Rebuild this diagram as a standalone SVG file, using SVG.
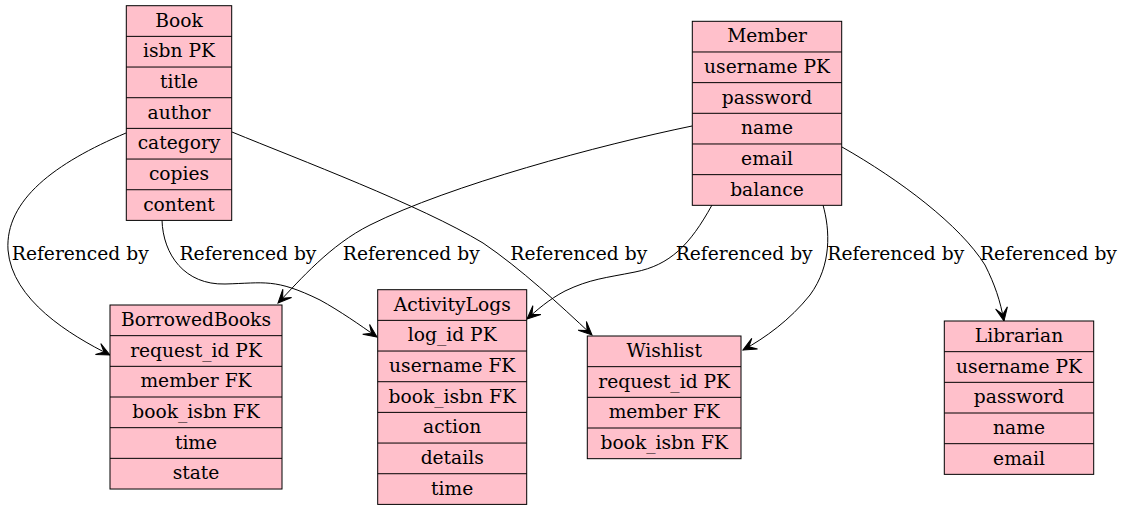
<svg xmlns="http://www.w3.org/2000/svg" width="1123" height="511" viewBox="0 0 1123 511">
<style>
.box{fill:#ffc0cb;stroke:#000;stroke-width:1}
.sep{stroke:#000;stroke-width:1}
.t{font-family:"DejaVu Serif","Liberation Serif",serif;font-size:18.67px;fill:#000;text-anchor:middle}
.edge{fill:none;stroke:#000;stroke-width:1;marker-end:url(#vee)}
</style>
<defs>
<marker id="vee" markerUnits="userSpaceOnUse" viewBox="-15 -8 16 16" refX="0" refY="0" markerWidth="16" markerHeight="16" orient="auto">
<path d="M0,0 L-13.3,-6 L-6.7,0 L-13.3,6 Z" fill="#000" stroke="#000" stroke-width="1"/>
</marker>
</defs>
<rect width="1123" height="511" fill="#fff"/>
<g id="connectors">
<path class="edge" d="M126,133 C55,163 5,200 8,250 C12,300 70,335 110,355"/>
<path class="edge" d="M162,220 C163,255 185,285 225,284 C265,283 275,278 320,300 C340,311 360,325 377,337"/>
<path class="edge" d="M232,132 C300,160 420,205 483,243 C520,268 560,305 592,335"/>
<path class="edge" d="M692,126 C600,145 450,185 370,225 C330,245 300,280 278,303"/>
<path class="edge" d="M712,205 C690,245 670,265 635,272 C605,278 590,279 565,291 C548,300 537,310 527,319"/>
<path class="edge" d="M823,205 C830,230 832,265 810,295 C790,320 765,338 743,350"/>
<path class="edge" d="M842,147 C900,180 960,225 985,265 C995,285 1000,300 1004,321"/>
<text class="t" x="80.3" y="259.5">Referenced by</text>
<text class="t" x="248" y="259.5">Referenced by</text>
<text class="t" x="411.3" y="259.5">Referenced by</text>
<text class="t" x="578.8" y="259.5">Referenced by</text>
<text class="t" x="744.2" y="259.5">Referenced by</text>
<text class="t" x="895.8" y="259.5">Referenced by</text>
<text class="t" x="1048.5" y="259.5">Referenced by</text>
</g>
<g id="Book">
<rect class="box" x="126.3" y="5.7" width="105.4" height="214.69"/>
<path class="sep" d="M126.3,36.37H231.7M126.3,67.04H231.7M126.3,97.71H231.7M126.3,128.38H231.7M126.3,159.05H231.7M126.3,189.72H231.7"/>
<text class="t" x="179" y="26.7">Book</text>
<text class="t" x="179" y="57.37">isbn PK</text>
<text class="t" x="179" y="88.04">title</text>
<text class="t" x="179" y="118.71">author</text>
<text class="t" x="179" y="149.38">category</text>
<text class="t" x="179" y="180.05">copies</text>
<text class="t" x="179" y="210.72">content</text>
</g>
<g id="Member">
<rect class="box" x="692.3" y="21.3" width="149.4" height="184.02"/>
<path class="sep" d="M692.3,51.97H841.7M692.3,82.64H841.7M692.3,113.31H841.7M692.3,143.98H841.7M692.3,174.65H841.7"/>
<text class="t" x="767" y="42.3">Member</text>
<text class="t" x="767" y="72.97">username PK</text>
<text class="t" x="767" y="103.64">password</text>
<text class="t" x="767" y="134.31">name</text>
<text class="t" x="767" y="164.98">email</text>
<text class="t" x="767" y="195.65">balance</text>
</g>
<g id="BorrowedBooks">
<rect class="box" x="110" y="305" width="172" height="184.02"/>
<path class="sep" d="M110,335.67H282M110,366.34H282M110,397.01H282M110,427.68H282M110,458.35H282"/>
<text class="t" x="196" y="326">BorrowedBooks</text>
<text class="t" x="196" y="356.67">request_id PK</text>
<text class="t" x="196" y="387.34">member FK</text>
<text class="t" x="196" y="418.01">book_isbn FK</text>
<text class="t" x="196" y="448.68">time</text>
<text class="t" x="196" y="479.35">state</text>
</g>
<g id="ActivityLogs">
<rect class="box" x="377.7" y="289.7" width="149" height="214.69"/>
<path class="sep" d="M377.7,320.37H526.7M377.7,351.04H526.7M377.7,381.71H526.7M377.7,412.38H526.7M377.7,443.05H526.7M377.7,473.72H526.7"/>
<text class="t" x="452.2" y="310.7">ActivityLogs</text>
<text class="t" x="452.2" y="341.37">log_id PK</text>
<text class="t" x="452.2" y="372.04">username FK</text>
<text class="t" x="452.2" y="402.71">book_isbn FK</text>
<text class="t" x="452.2" y="433.38">action</text>
<text class="t" x="452.2" y="464.05">details</text>
<text class="t" x="452.2" y="494.72">time</text>
</g>
<g id="Wishlist">
<rect class="box" x="587.3" y="336" width="153.7" height="122.68"/>
<path class="sep" d="M587.3,366.67H741M587.3,397.34H741M587.3,428.01H741"/>
<text class="t" x="664.2" y="357">Wishlist</text>
<text class="t" x="664.2" y="387.67">request_id PK</text>
<text class="t" x="664.2" y="418.34">member FK</text>
<text class="t" x="664.2" y="449.01">book_isbn FK</text>
</g>
<g id="Librarian">
<rect class="box" x="944.3" y="321" width="149.4" height="153.35"/>
<path class="sep" d="M944.3,351.67H1093.7M944.3,382.34H1093.7M944.3,413.01H1093.7M944.3,443.68H1093.7"/>
<text class="t" x="1019" y="342">Librarian</text>
<text class="t" x="1019" y="372.67">username PK</text>
<text class="t" x="1019" y="403.34">password</text>
<text class="t" x="1019" y="434.01">name</text>
<text class="t" x="1019" y="464.68">email</text>
</g>
</svg>
